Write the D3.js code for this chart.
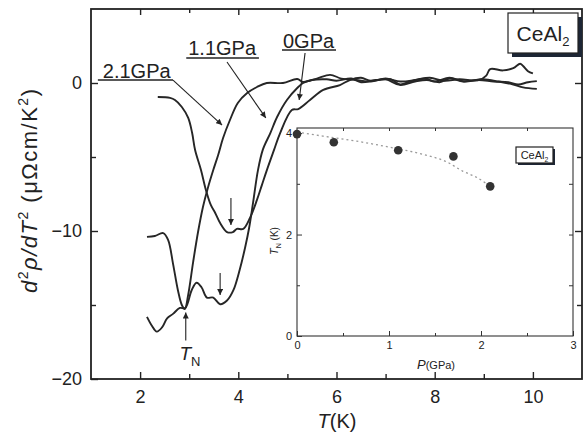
<!DOCTYPE html>
<html>
<head>
<meta charset="utf-8">
<script src="https://cdn.jsdelivr.net/npm/d3@7"></script>
<style>
  body { margin: 0; background: #fff; }
  svg { display: block; font-family: Arial, "Liberation Sans", sans-serif; }
</style>
</head>
<body>
<div id="chart"></div>
<script>
// main panel: d2rho/dT2 vs T for three pressures
const t0GPa = [2.36, 2.61, 2.71, 2.85, 2.98, 3.06, 3.12, 3.24, 3.34, 3.44, 3.53, 3.63, 3.77, 3.89, 3.97, 4.10, 4.24, 4.38, 4.48, 4.58, 4.73, 4.85, 5.09, 5.22, 5.46, 5.73, 6.07, 6.27, 6.5, 6.7, 7.0, 7.29, 7.6, 7.84, 8.1, 8.31, 8.58, 8.98, 9.3, 9.6, 9.8, 10.08];
const v0GPa = [-0.95, -1.01, -1.15, -1.62, -2.36, -3.38, -4.53, -5.88, -7.23, -8.24, -8.78, -9.46, -10.07, -10.07, -9.86, -9.86, -9.1, -7.9, -6.9, -5.9, -4.5, -3.4, -1.82, -1.76, -1.15, -0.47, -0.14, 0.2, 0.35, 0.15, 0.25, -0.13, 0.1, 0.2, 0.05, 0.3, 0.1, 0.25, 0.1, -0.1, -0.3, -0.4];

const t11GPa = [2.14, 2.24, 2.34, 2.45, 2.55, 2.67, 2.81, 2.92, 3.05, 3.15, 3.25, 3.36, 3.49, 3.63, 3.77, 3.90, 4.03, 4.14, 4.22, 4.30, 4.40, 4.50, 4.65, 4.79, 4.99, 5.20, 5.32, 5.5, 5.8, 6.0, 6.3, 6.5, 6.8, 7.1, 7.3, 7.5, 7.8, 8.0, 8.3, 8.6, 8.9, 9.2, 9.5, 9.7, 9.9, 10.08];
const v11GPa = [-15.8, -16.4, -16.8, -16.5, -15.9, -15.6, -15.2, -15.2, -14.0, -13.5, -13.8, -14.5, -14.5, -14.95, -14.7, -14.0, -12.6, -11.1, -9.8, -8.1, -5.9, -4.5, -3.4, -2.3, -1.15, -0.34, 0, 0.2, 0.25, 0.15, 0.3, 0.05, 0.2, 0.25, -0.1, 0.1, 0.3, 0.1, 0.35, 0.1, 0.2, 0.1, 0.05, -0.1, 0.05, 0.13];

const t21GPa = [2.14, 2.30, 2.47, 2.57, 2.67, 2.77, 2.85, 2.91, 2.98, 3.08, 3.18, 3.28, 3.38, 3.49, 3.59, 3.69, 3.83, 3.99, 4.18, 4.38, 4.58, 4.91, 5.2, 5.32, 5.6, 5.87, 6.1, 6.4, 6.7, 7.0, 7.3, 7.6, 7.9, 8.2, 8.5, 8.9, 9.05, 9.13, 9.39, 9.6, 9.74, 9.8, 9.9, 10.0];
const v21GPa = [-10.4, -10.34, -10.14, -10.6, -12.2, -14.0, -15.0, -15.27, -14.3, -12.1, -10.07, -8.38, -7.09, -5.88, -4.86, -3.72, -2.5, -1.35, -0.68, -0.27, 0, 0, 0.27, 0.07, 0.3, 0.55, 0.3, 0.2, 0.1, 0.3, 0.1, 0.2, 0.35, 0.15, 0.25, 0.2, 0.5, 0.94, 0.85, 1.0, 1.3, 1.15, 0.8, 0.65];

const xTicks = [2, 4, 6, 8, 10];
const yTicks = [-20, -10, 0];

// inset: T_N vs pressure
const pressure = [0, 0.4, 1.1, 1.7, 2.1];
const tNeel = [3.98, 3.82, 3.66, 3.54, 2.95];
const fitP = [0, 0.28, 0.65, 1.01, 1.37, 1.63, 1.80, 1.95, 2.07];
const fitT = [4.02, 3.94, 3.84, 3.72, 3.58, 3.43, 3.25, 3.13, 2.99];

const W = 585, H = 443;
const margin = { top: 9, right: 3, bottom: 64, left: 91 };
const width = W - margin.left - margin.right;
const height = H - margin.top - margin.bottom;

const svg = d3.select("#chart").append("svg")
  .attr("width", W)
  .attr("height", H);

const defs = svg.append("defs");
defs.append("marker")
  .attr("id", "head")
  .attr("viewBox", "0 0 10 10")
  .attr("refX", 10).attr("refY", 5)
  .attr("markerWidth", 7).attr("markerHeight", 6)
  .attr("markerUnits", "userSpaceOnUse")
  .attr("orient", "auto")
  .append("path").attr("d", "M0,0L10,5L0,10z").attr("fill", "#222");

const g = svg.append("g").attr("transform", `translate(${margin.left},${margin.top})`);

const x = d3.scaleLinear().domain([1, 11]).range([0, width]);
const y = d3.scaleLinear().domain([-20, 5]).range([height, 0]);

function styleAxis(sel, fs) {
  sel.select(".domain").remove();
  sel.selectAll(".tick line").attr("stroke", "#222").attr("stroke-width", 1.4);
  sel.selectAll("text").attr("fill", "#222").style("font-size", fs + "px");
}

// ticks point inward on all four sides
g.append("g").attr("transform", `translate(0,${height})`)
  .call(d3.axisBottom(x).tickValues(xTicks).tickSize(-7).tickPadding(11).tickFormat(d3.format("d")))
  .call(s => styleAxis(s, 18));
g.append("g").attr("transform", `translate(0,${height})`)
  .call(d3.axisBottom(x).tickValues([3, 5, 7, 9]).tickSize(-5).tickFormat(""))
  .call(s => styleAxis(s, 18));
g.append("g")
  .call(d3.axisTop(x).tickValues([2, 4, 6, 8, 10]).tickSize(-6).tickFormat(""))
  .call(s => styleAxis(s, 18));
g.append("g")
  .call(d3.axisTop(x).tickValues([3, 5, 7, 9]).tickSize(-4).tickFormat(""))
  .call(s => styleAxis(s, 18));
g.append("g")
  .call(d3.axisLeft(y).tickValues(yTicks).tickSize(-7).tickPadding(9).tickFormat(d3.format("d")))
  .call(s => styleAxis(s, 18));
g.append("g")
  .call(d3.axisLeft(y).tickValues([-15, -5]).tickSize(-5).tickFormat(""))
  .call(s => styleAxis(s, 18));
g.append("g").attr("transform", `translate(${width},0)`)
  .call(d3.axisRight(y).tickValues([-10, 0]).tickSize(-7).tickFormat(""))
  .call(s => styleAxis(s, 18));
g.append("g").attr("transform", `translate(${width},0)`)
  .call(d3.axisRight(y).tickValues([-15, -5]).tickSize(-5).tickFormat(""))
  .call(s => styleAxis(s, 18));

g.append("rect")
  .attr("width", width).attr("height", height)
  .attr("fill", "none").attr("stroke", "#222").attr("stroke-width", 1.8);

// curves
const line = d3.line()
  .x(d => x(d[0]))
  .y(d => y(d[1]))
  .curve(d3.curveCatmullRom.alpha(0.5));

const series = [
  { t: t0GPa, v: v0GPa },
  { t: t11GPa, v: v11GPa },
  { t: t21GPa, v: v21GPa }
];
series.forEach(s => {
  g.append("path")
    .datum(s.t.map((t, i) => [t, s.v[i]]))
    .attr("d", line)
    .attr("fill", "none")
    .attr("stroke", "#262626")
    .attr("stroke-width", 1.9)
    .attr("stroke-linejoin", "round");
});

// pressure labels, underlined, with arrows to their curve
function pressureLabel(txt, tx, ty, ux0, ux1, uy, a0, a1) {
  g.append("text")
    .attr("x", x(tx)).attr("y", y(ty))
    .attr("fill", "#222")
    .style("font-size", "20px")
    .text(txt);
  g.append("line")
    .attr("x1", x(ux0)).attr("x2", x(ux1))
    .attr("y1", y(uy)).attr("y2", y(uy))
    .attr("stroke", "#222").attr("stroke-width", 1.6);
  g.append("line")
    .attr("x1", x(a0[0])).attr("y1", y(a0[1]))
    .attr("x2", x(a1[0])).attr("y2", y(a1[1]))
    .attr("stroke", "#222").attr("stroke-width", 1.1)
    .attr("marker-end", "url(#head)");
}
pressureLabel("2.1GPa", 1.24, 0.34, 1.14, 2.67, 0.2, [2.67, 0.2], [3.67, -2.84]);
pressureLabel("1.1GPa", 2.98, 1.89, 2.94, 4.42, 1.69, [3.77, 1.42], [4.56, -2.36]);
pressureLabel("0GPa", 4.91, 2.36, 4.89, 5.99, 2.23, [5.36, 2.03], [5.24, -1.15]);

// small arrows marking T_N
function tnArrow(t, from, to) {
  g.append("line")
    .attr("x1", x(t)).attr("x2", x(t))
    .attr("y1", y(from)).attr("y2", y(to))
    .attr("stroke", "#222").attr("stroke-width", 1.1)
    .attr("marker-end", "url(#head)");
}
tnArrow(2.93, -17.4, -15.5);
tnArrow(3.85, -7.77, -9.59);
tnArrow(3.63, -12.84, -14.32);

const tn = g.append("text")
  .attr("x", x(2.8)).attr("y", y(-18.7))
  .attr("fill", "#222");
tn.append("tspan").style("font-size", "19px").style("font-style", "italic").text("T");
tn.append("tspan").attr("dy", 6).style("font-size", "13px").text("N");

// axis titles
const xt = svg.append("text")
  .attr("x", 337).attr("y", 428)
  .attr("text-anchor", "middle")
  .attr("fill", "#222")
  .style("font-size", "20px");
xt.append("tspan").style("font-style", "italic").text("T");
xt.append("tspan").text("(K)");

const yt = svg.append("text")
  .attr("transform", "translate(37,191) rotate(-90)")
  .attr("text-anchor", "middle")
  .attr("textLength", 204)
  .attr("lengthAdjust", "spacing")
  .attr("fill", "#222")
  .style("font-size", "22px");
yt.append("tspan").style("font-style", "italic").text("d");
yt.append("tspan").attr("dy", -9).style("font-size", "14px").text("2");
yt.append("tspan").attr("dy", 9).style("font-style", "italic").text("ρ/d");
yt.append("tspan").style("font-style", "italic").text("T");
yt.append("tspan").attr("dy", -9).style("font-size", "14px").text("2");
yt.append("tspan").attr("dy", 9).text(" (μΩcm/K");
yt.append("tspan").attr("dy", -9).style("font-size", "14px").text("2");
yt.append("tspan").attr("dy", 9).text(")");

// CeAl2 box with shadow
function compoundBox(parent, bx, by, bw, bh, fs, sh) {
  parent.append("rect")
    .attr("x", bx + sh).attr("y", by + sh).attr("width", bw).attr("height", bh)
    .attr("fill", "#1d2635");
  parent.append("rect")
    .attr("x", bx).attr("y", by).attr("width", bw).attr("height", bh)
    .attr("fill", "#fff").attr("stroke", "#222").attr("stroke-width", 1.2);
  const t = parent.append("text")
    .attr("x", bx + bw / 2).attr("y", by + bh / 2 + fs * 0.36)
    .attr("text-anchor", "middle")
    .attr("fill", "#222")
    .style("font-size", fs + "px");
  t.append("tspan").text("CeAl");
  t.append("tspan").attr("dy", fs * 0.28).style("font-size", (fs * 0.62) + "px").text("2");
}
compoundBox(svg, 508, 13, 70, 40, 21, 4);

// inset
const ix0 = 297, iy0 = 128, iw = 276, ih = 208;
const inset = svg.append("g").attr("transform", `translate(${ix0},${iy0})`);
const px = d3.scaleLinear().domain([0, 3]).range([0, iw]);
const py = d3.scaleLinear().domain([0, 4.1]).range([ih, 0]);

inset.append("rect").attr("width", iw).attr("height", ih).attr("fill", "#fff");

function styleInset(sel) {
  sel.select(".domain").remove();
  sel.selectAll(".tick line").attr("stroke", "#333").attr("stroke-width", 1);
  sel.selectAll("text").attr("fill", "#222").style("font-size", "11px");
}
inset.append("g").attr("transform", `translate(0,${ih})`)
  .call(d3.axisBottom(px).tickValues([0, 1, 2, 3]).tickSize(-5).tickPadding(5).tickFormat(d3.format("d")))
  .call(styleInset);
inset.append("g").attr("transform", `translate(0,${ih})`)
  .call(d3.axisBottom(px).tickValues([0.5, 1.5, 2.5]).tickSize(-3).tickFormat(""))
  .call(styleInset);
inset.append("g")
  .call(d3.axisTop(px).tickValues([0.5, 1, 1.5, 2, 2.5]).tickSize(-3).tickFormat(""))
  .call(styleInset);
inset.append("g")
  .call(d3.axisLeft(py).tickValues([0, 2, 4]).tickSize(-5).tickPadding(5).tickFormat(d3.format("d")))
  .call(styleInset);
inset.append("g")
  .call(d3.axisLeft(py).tickValues([1, 3]).tickSize(-3).tickFormat(""))
  .call(styleInset);
inset.append("g").attr("transform", `translate(${iw},0)`)
  .call(d3.axisRight(py).tickValues([1, 2, 3]).tickSize(-4).tickFormat(""))
  .call(styleInset);

inset.append("rect")
  .attr("width", iw).attr("height", ih)
  .attr("fill", "none").attr("stroke", "#333").attr("stroke-width", 1.1);

inset.append("path")
  .datum(fitP.map((p, i) => [p, fitT[i]]))
  .attr("d", d3.line().x(d => px(d[0])).y(d => py(d[1])).curve(d3.curveMonotoneX))
  .attr("fill", "none")
  .attr("stroke", "#9a9a9a")
  .attr("stroke-width", 1.3)
  .attr("stroke-dasharray", "2,3");

inset.selectAll("circle")
  .data(pressure)
  .enter()
  .append("circle")
  .attr("cx", d => px(d))
  .attr("cy", (d, i) => py(tNeel[i]))
  .attr("r", 4.3)
  .attr("fill", "#333");

const pl = svg.append("text")
  .attr("x", 436).attr("y", 369)
  .attr("text-anchor", "middle")
  .attr("fill", "#222");
pl.append("tspan").style("font-size", "13px").style("font-style", "italic").text("P");
pl.append("tspan").style("font-size", "11px").text("(GPa)");

const tl = svg.append("text")
  .attr("transform", "translate(278,241) rotate(-90)")
  .attr("text-anchor", "middle")
  .attr("fill", "#222");
tl.append("tspan").style("font-size", "11px").style("font-style", "italic").text("T");
tl.append("tspan").attr("dy", 3).style("font-size", "7px").text("N");
tl.append("tspan").attr("dy", -3).style("font-size", "10px").text(" (K)");

compoundBox(svg, 516, 147, 37, 16, 11, 2);
</script>
</body>
</html>
